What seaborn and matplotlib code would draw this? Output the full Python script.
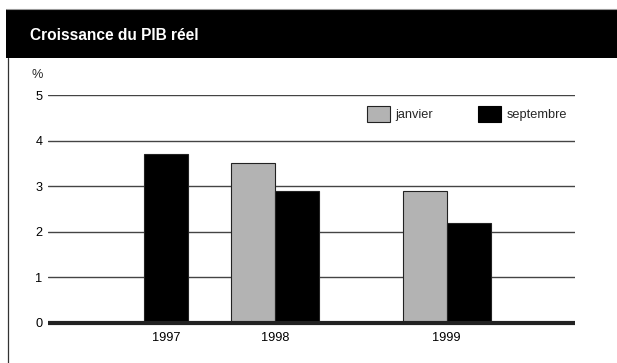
import numpy as np
import pandas as pd
import matplotlib
matplotlib.use("Agg")
import matplotlib.pyplot as plt
from matplotlib.patches import Patch, Rectangle
from matplotlib.lines import Line2D
import seaborn as sns

# Real GDP growth, forecasts made in January and September (%)
years = ["1997", "1998", "1999"]
series = ["janvier", "septembre"]
janvier = [np.nan, 3.5, 2.9]
septembre = [3.7, 2.9, 2.2]
y_ticks = [0, 1, 2, 3, 4, 5]
title = "Croissance du PIB réel"
unit = "%"

sns.set_theme(style="white")
plt.rcParams["font.family"] = ["Liberation Sans", "DejaVu Sans"]

W, H = 617, 363
fig = plt.figure(figsize=(W / 100, H / 100), dpi=100)
fig.patch.set_facecolor("white")

# Layout: each bar is one unit wide; a year's pair of bars meets at group_x
group_x = [2.18, 5.17, 9.06]
offsets = {"janvier": -0.5, "septembre": 0.5}
rows = []
for gx, year, j, s in zip(group_x, years, janvier, septembre):
    for name, v in (("janvier", j), ("septembre", s)):
        if not np.isnan(v):
            rows.append({"x": gx + offsets[name], "annee": year,
                         "serie": name, "valeur": v})
df = pd.DataFrame(rows)

colors = {"janvier": "#b3b3b3", "septembre": "#000000"}

ax = fig.add_axes([48 / W, 1 - 322.7 / H, 527 / W, (322.7 - 95) / H])
sns.barplot(data=df, x="x", y="valeur", hue="serie", hue_order=series,
            palette=colors, native_scale=True, dodge=False, width=1.0,
            errorbar=None, edgecolor="#222222", linewidth=0.8,
            legend=False, ax=ax, zorder=2)

ax.set_xlim(0, 527 / 44)
ax.set_ylim(y_ticks[0], y_ticks[-1])

# Year labels under the centre of the bars present for that year
tick_pos = df.groupby("annee", sort=False)["x"].mean().reindex(years)
ax.set_xticks(tick_pos.values)
ax.set_xticklabels(years)
ax.set_yticks(y_ticks)
ax.set_yticklabels([str(t) for t in y_ticks])
ax.tick_params(axis="both", length=0, labelsize=9.2, colors="#000000")
ax.tick_params(axis="y", pad=4)
ax.tick_params(axis="x", pad=7)
ax.set_xlabel("")
ax.set_ylabel("")

ax.yaxis.grid(True, color="#444444", linewidth=1.0)
ax.xaxis.grid(False)
ax.set_axisbelow(True)
for side in ("top", "left", "right"):
    ax.spines[side].set_visible(False)
ax.spines["bottom"].set_color("#222222")
ax.spines["bottom"].set_linewidth(3.0)
ax.spines["bottom"].set_capstyle("butt")
ax.spines["bottom"].set_zorder(3)

fig.text(43 / W, 1 - 75 / H, unit, ha="right", va="center", fontsize=9.2)

# Title band and frame
fig.patches.append(Rectangle((6 / W, 1 - 58 / H), 1 - 6 / W, 49 / H,
                             transform=fig.transFigure, facecolor="black",
                             edgecolor="none", zorder=0))
fig.lines.append(Line2D([6 / W, 1], [1 - 8.5 / H, 1 - 8.5 / H],
                        transform=fig.transFigure, color="#999999", lw=0.8))
fig.lines.append(Line2D([7.5 / W, 7.5 / W], [0, 1 - 58 / H],
                        transform=fig.transFigure, color="#333333", lw=0.9))
fig.text(30 / W, 1 - 35 / H, title, color="white", fontweight="bold",
         fontsize=11.2, va="center", ha="left",
         family=["Liberation Sans", "DejaVu Sans"])

handles = [Patch(facecolor=colors["janvier"], edgecolor="#222222", linewidth=0.8),
           Patch(facecolor=colors["septembre"], edgecolor="#000000", linewidth=0.8)]
fig.legend(handles, series, loc="center left",
           bbox_to_anchor=(367 / W, 1 - 114 / H), bbox_transform=fig.transFigure,
           ncol=2, frameon=False, handlelength=1.8, handleheight=1.45,
           handletextpad=0.45, columnspacing=3.5, borderpad=0,
           borderaxespad=0, fontsize=9.2)

fig.savefig("out.png", dpi=100, facecolor="white")
